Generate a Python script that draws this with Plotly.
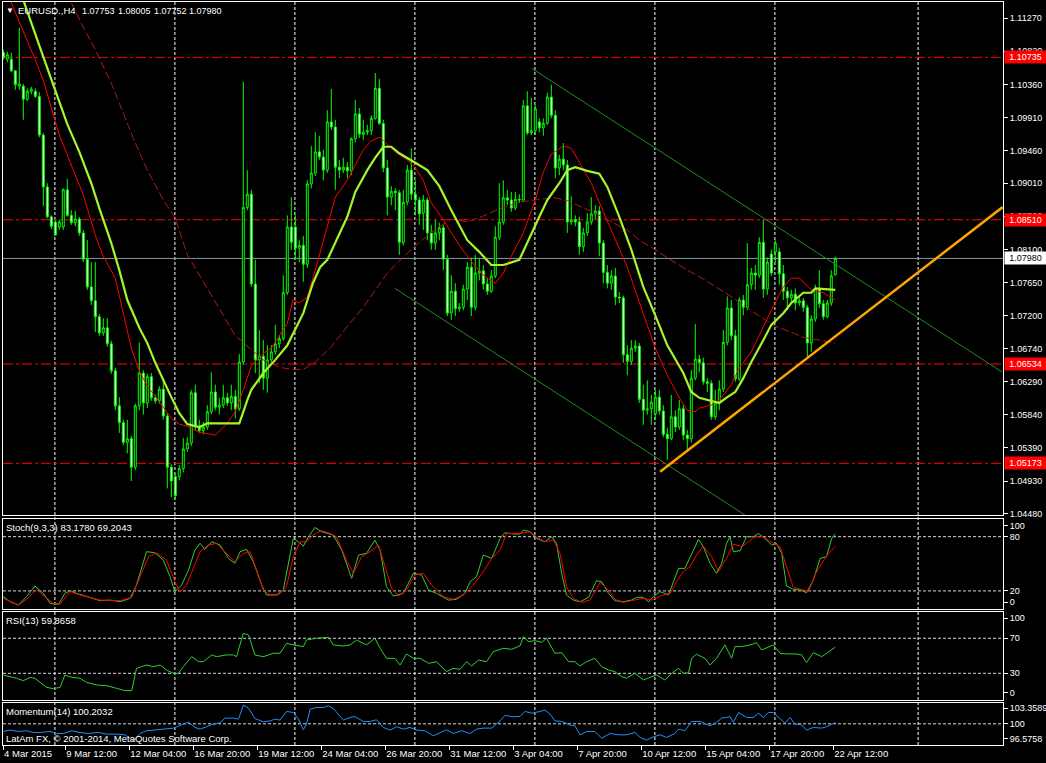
import plotly.graph_objects as go

# ---------------- DATA ----------------
opens = [
 1.1080,1.1071,1.1071,1.1055,1.1034,1.1034,1.1016,1.1027,1.1027,1.1020,
 1.0967,1.0896,1.0855,1.0848,1.0841,1.0841,1.0892,1.0857,1.0847,1.0852,
 1.0833,1.0797,1.0759,1.0740,1.0718,1.0696,1.0703,1.0681,1.0644,1.0596,
 1.0573,1.0546,1.0551,1.0512,1.0596,1.0641,1.0600,1.0636,1.0607,1.0603,
 1.0619,1.0582,1.0512,1.0499,1.0499,1.0510,1.0537,1.0545,1.0614,1.0567,
 1.0562,1.0567,1.0588,1.0615,1.0594,1.0597,1.0607,1.0600,1.0609,1.0592,
 1.0656,1.0868,1.0886,1.0763,1.0659,1.0664,1.0634,1.0659,1.0670,1.0681,
 1.0688,1.0751,1.0841,1.0841,1.0812,1.0816,1.0790,1.0900,1.0915,1.0944,
 1.0937,1.0919,1.0985,1.0978,1.0923,1.0919,1.0923,1.0918,1.0962,1.0996,
 1.0968,1.0971,1.0973,1.0990,1.1031,1.0983,1.0922,1.0882,1.0890,1.0888,
 1.0820,1.0875,1.0919,1.0886,1.0878,1.0860,1.0878,1.0833,1.0819,1.0833,
 1.0840,1.0797,1.0723,1.0753,1.0729,1.0731,1.0756,1.0786,1.0731,1.0778,
 1.0781,1.0763,1.0753,1.0774,1.0827,1.0848,1.0881,1.0878,1.0867,1.0879,
 1.0878,1.1007,1.0970,1.0973,1.0985,1.0977,1.0983,1.1019,1.0994,1.0922,
 1.0934,1.0926,1.0848,1.0851,1.0848,1.0814,1.0833,1.0848,1.0859,1.0863,
 1.0819,1.0779,1.0764,1.0774,1.0745,1.0744,1.0666,1.0657,1.0675,1.0678,
 1.0605,1.0590,1.0592,1.0585,1.0608,1.0589,1.0557,1.0551,1.0581,1.0567,
 1.0592,1.0556,1.0551,1.0634,1.0660,1.0655,1.0629,1.0627,1.0581,1.0600,
 1.0619,1.0683,1.0730,1.0692,1.0633,1.0741,1.0731,1.0762,1.0778,1.0775,
 1.0820,1.0756,1.0804,1.0807,1.0807,1.0777,1.0753,1.0744,1.0749,1.0737,
 1.0740,1.0731,1.0682,1.0715,1.0756,1.0736,1.0718,1.0737,1.07753]
highs = [
 1.1084,1.1081,1.1080,1.1056,1.1114,1.1037,1.1031,1.1033,1.1031,1.1026,
 1.0970,1.0901,1.0857,1.0851,1.0851,1.0894,1.0907,1.0864,1.0863,1.0855,
 1.0837,1.0823,1.0793,1.0793,1.0722,1.0716,1.0716,1.0685,1.0648,1.0608,
 1.0577,1.0577,1.0555,1.0599,1.0683,1.0645,1.0640,1.0641,1.0611,1.0623,
 1.0634,1.0586,1.0516,1.0503,1.0515,1.0552,1.0553,1.0618,1.0625,1.0577,
 1.0574,1.0597,1.0642,1.0625,1.0607,1.0625,1.0614,1.0625,1.0618,1.0667,
 1.1040,1.0919,1.0892,1.0796,1.0700,1.0686,1.0679,1.0679,1.0707,1.0693,
 1.0775,1.0857,1.0882,1.0857,1.0823,1.0829,1.0905,1.0952,1.0971,1.0966,
 1.0947,1.1001,1.1030,1.0988,1.0933,1.0936,1.0930,1.0964,1.1015,1.1004,
 1.0988,1.0981,1.0994,1.1052,1.1044,1.0988,1.0933,1.0897,1.0894,1.0892,
 1.0892,1.0926,1.0949,1.0905,1.0882,1.0885,1.0881,1.0844,1.0851,1.0847,
 1.0844,1.0803,1.0775,1.0764,1.0737,1.0762,1.0793,1.0799,1.0803,1.0799,
 1.0789,1.0771,1.0782,1.0842,1.0901,1.0905,1.0892,1.0889,1.0889,1.0886,
 1.1015,1.1027,1.1018,1.1008,1.0990,1.0990,1.1025,1.1036,1.1001,1.0940,
 1.0956,1.0933,1.0883,1.0857,1.0855,1.0840,1.0860,1.0882,1.0871,1.0870,
 1.0823,1.0789,1.0782,1.0785,1.0752,1.0747,1.0679,1.0686,1.0686,1.0682,
 1.0625,1.0631,1.0611,1.0618,1.0618,1.0597,1.0566,1.0611,1.0590,1.0604,
 1.0597,1.0563,1.0645,1.0708,1.0666,1.0662,1.0634,1.0631,1.0618,1.0631,
 1.0700,1.0746,1.0741,1.0700,1.0745,1.0748,1.0819,1.0785,1.0789,1.0827,
 1.0851,1.0799,1.0810,1.0823,1.0812,1.0789,1.0759,1.0755,1.0757,1.0747,
 1.0744,1.0734,1.0720,1.0762,1.0782,1.0741,1.0741,1.0782,1.08005]
lows = [
 1.1070,1.1067,1.1053,1.1029,1.1029,1.0988,1.1014,1.1023,1.1018,1.0964,
 1.0870,1.0853,1.0838,1.0829,1.0837,1.0837,1.0855,1.0844,1.0842,1.0829,
 1.0793,1.0755,1.0734,1.0697,1.0692,1.0692,1.0677,1.0640,1.0590,1.0559,
 1.0542,1.0531,1.0493,1.0508,1.0590,1.0584,1.0593,1.0603,1.0599,1.0599,
 1.0577,1.0483,1.0471,1.0467,1.0494,1.0505,1.0533,1.0541,1.0563,1.0559,
 1.0557,1.0563,1.0585,1.0590,1.0584,1.0593,1.0596,1.0590,1.0579,1.0589,
 1.0652,1.0864,1.0759,1.0641,1.0627,1.0618,1.0614,1.0655,1.0666,1.0675,
 1.0685,1.0748,1.0810,1.0796,1.0793,1.0766,1.0785,1.0894,1.0911,1.0933,
 1.0905,1.0915,1.0974,1.0892,1.0908,1.0915,1.0908,1.0912,1.0957,1.0963,
 1.0960,1.0967,1.0967,1.0988,1.0981,1.0916,1.0857,1.0871,1.0864,1.0803,
 1.0816,1.0871,1.0878,1.0857,1.0844,1.0837,1.0823,1.0810,1.0810,1.0823,
 1.0782,1.0719,1.0714,1.0719,1.0725,1.0727,1.0741,1.0719,1.0727,1.0768,
 1.0755,1.0748,1.0751,1.0771,1.0823,1.0844,1.0871,1.0862,1.0864,1.0874,
 1.0877,1.0967,1.0967,1.0967,1.0971,1.0966,1.0981,1.0990,1.0908,1.0912,
 1.0919,1.0833,1.0844,1.0842,1.0803,1.0807,1.0829,1.0844,1.0852,1.0801,
 1.0764,1.0757,1.0755,1.0734,1.0737,1.0655,1.0638,1.0652,1.0670,1.0600,
 1.0570,1.0584,1.0570,1.0577,1.0584,1.0553,1.0522,1.0549,1.0560,1.0563,
 1.0549,1.0536,1.0546,1.0631,1.0642,1.0625,1.0615,1.0577,1.0577,1.0590,
 1.0615,1.0679,1.0686,1.0629,1.0630,1.0720,1.0727,1.0755,1.0755,1.0771,
 1.0744,1.0748,1.0774,1.0793,1.0762,1.0741,1.0727,1.0738,1.0727,1.0733,
 1.0725,1.0663,1.0670,1.0711,1.0730,1.0714,1.0716,1.0733,1.07752]
closes = [
 1.1073,1.1077,1.1055,1.1036,1.1037,1.1016,1.1027,1.1030,1.1020,1.0967,
 1.0896,1.0855,1.0842,1.0830,1.0848,1.0892,1.0857,1.0847,1.0852,1.0833,
 1.0797,1.0759,1.0740,1.0718,1.0696,1.0703,1.0681,1.0644,1.0596,1.0573,
 1.0546,1.0551,1.0512,1.0596,1.0641,1.0600,1.0636,1.0607,1.0603,1.0619,
 1.0582,1.0512,1.0493,1.0473,1.0510,1.0537,1.0545,1.0614,1.0567,1.0562,
 1.0567,1.0588,1.0615,1.0594,1.0597,1.0607,1.0600,1.0609,1.0592,1.0656,
 1.0868,1.0886,1.0763,1.0659,1.0664,1.0634,1.0659,1.0670,1.0681,1.0688,
 1.0751,1.0841,1.0820,1.0812,1.0816,1.0790,1.0900,1.0915,1.0944,1.0937,
 1.0919,1.0985,1.0978,1.0923,1.0919,1.0923,1.0918,1.0962,1.0996,1.0968,
 1.0971,1.0973,1.0990,1.1031,1.0983,1.0922,1.0882,1.0890,1.0888,1.0820,
 1.0875,1.0919,1.0886,1.0878,1.0859,1.0878,1.0833,1.0819,1.0833,1.0840,
 1.0797,1.0723,1.0753,1.0729,1.0731,1.0756,1.0786,1.0731,1.0778,1.0781,
 1.0763,1.0753,1.0774,1.0827,1.0848,1.0881,1.0878,1.0867,1.0879,1.0878,
 1.1007,1.0970,1.0973,1.1003,1.0977,1.0983,1.1019,1.0994,1.0922,1.0934,
 1.0926,1.0848,1.0851,1.0848,1.0814,1.0833,1.0848,1.0859,1.0863,1.0819,
 1.0779,1.0764,1.0774,1.0745,1.0744,1.0666,1.0657,1.0675,1.0678,1.0605,
 1.0590,1.0592,1.0601,1.0608,1.0589,1.0557,1.0551,1.0581,1.0567,1.0592,
 1.0556,1.0551,1.0634,1.0660,1.0655,1.0629,1.0627,1.0581,1.0600,1.0619,
 1.0683,1.0730,1.0692,1.0633,1.0741,1.0731,1.0762,1.0778,1.0775,1.0820,
 1.0756,1.0793,1.0778,1.0819,1.0777,1.0753,1.0744,1.0749,1.0737,1.0740,
 1.0731,1.0682,1.0715,1.0756,1.0736,1.0718,1.0737,1.0774,1.07980]
bars = list(range(len(closes)))

# moving averages (bar index, price)
ma_slow = [(0,1.1238),(5,1.1152),(10,1.1074),(13,1.1029),(16,1.0982),(19,1.0944),(22,1.0901),(24,1.0867),
 (27,1.0819),(29,1.0782),(31,1.0741),(34,1.0703),(36,1.0682),(38,1.0655),(40,1.0631),(42,1.0608),(44,1.0586),
 (46,1.0571),(49,1.0567),(51,1.0572),(54,1.0572),(59,1.0572),(61,1.0604),(62,1.0618),(65,1.0641),(68,1.0659),
 (71,1.0679),(75,1.0723),(77.4,1.0764),(79.2,1.0786),(81,1.0796),(83,1.0819),(86,1.0855),(88,1.0889),(91,1.0919),
 (93,1.0936),(95,1.0951),(97,1.0951),(99,1.0942),(103,1.0929),(106,1.0919),(109,1.0897),(112,1.0864),
 (116,1.0823),(119,1.0807),(122,1.0789),(125,1.0789),(129,1.0796),(132,1.0830),(134,1.0855),(136,1.0878),
 (139,1.0901),(141,1.0919),(143,1.0923),(146,1.0918),(149,1.0914),(151,1.0896),(154,1.0855),(157,1.0810),
 (160,1.0759),(163,1.0720),(166,1.0679),(170,1.0641),(172,1.0615),(174,1.0607),(177,1.0603),(179,1.0600),
 (181,1.0608),(183,1.0615),(185,1.0634),(187,1.0656),(190,1.0686),(192,1.0707),(195,1.0723),(197,1.0737),
 (200,1.0751),(202,1.0751),(203,1.0757),(206,1.0756),(208,1.0755)]
ma_fast = [(0,1.1174),(2,1.1148),(5,1.1111),(8,1.1070),(10,1.1042),(12,1.1005),(14,1.0967),(17,1.0926),
 (20,1.0885),(23,1.0830),(25,1.0801),(28,1.0771),(30,1.0723),(32,1.0675),(34,1.0644),(36,1.0623),(38,1.0609),
 (40,1.0594),(42,1.0579),(44,1.0571),(46,1.0568),(49,1.0560),(52,1.0557),(53,1.0556),(56,1.0572),(58,1.0588),
 (60,1.0618),(62,1.0651),(65,1.0668),(67,1.0675),(71,1.0709),(72.4,1.0741),(74,1.0737),(76,1.0745),(78,1.0782),
 (81,1.0841),(83,1.0882),(86,1.0905),(88,1.0926),(90,1.0947),(92,1.0959),(94,1.0964),(95,1.0960),(98,1.0944),
 (101,1.0933),(103,1.0922),(105,1.0905),(107,1.0874),(110,1.0851),(114,1.0816),(117,1.0794),(120,1.0775),
 (123,1.0764),(125,1.0778),(127,1.0801),(130,1.0833),(133,1.0878),(135,1.0916),(137,1.0941),(140,1.0952),
 (142,1.0949),(144,1.0930),(147,1.0901),(150,1.0862),(153,1.0823),(156,1.0786),(159,1.0738),(163,1.0675),
 (166,1.0638),(169,1.0607),(171,1.0590),(173,1.0588),(174,1.0593),(177,1.0597),(179,1.0604),(182,1.0625),
 (184,1.0648),(187,1.0670),(190,1.0704),(192,1.0727),(195,1.0759),(197,1.0771),(199,1.0771),(202,1.0755),
 (205,1.0751),(208,1.0741)]
ma_long = [(0,1.1320),(17,1.1148),(20,1.1115),(23,1.1084),(27,1.1038),(30,1.0997),(33,1.0956),(36,1.0919),
 (40,1.0878),(43,1.0853),(46,1.0803),(50,1.0766),(52,1.0748),(55,1.0720),(58,1.0692),(62,1.0673),(65,1.0659),
 (69,1.0649),(72,1.0646),(75,1.0646),(78,1.0656),(82,1.0677),(86,1.0705),(90,1.0731),(93,1.0755),(96,1.0778),
 (100,1.0800),(104,1.0820),(108,1.0838),(112,1.0852),(116,1.0848),(120,1.0856),(124,1.0866),(129,1.0875),
 (134,1.0879),(138,1.0881),(141,1.0877),(144,1.0870),(148,1.0860),(151,1.0851),(156,1.0837),(159,1.0823),
 (163,1.0810),(166,1.0799),(171,1.0782),(175,1.0770),(179,1.0756),(183,1.0742),(186,1.0730),(190,1.0716),
 (193,1.0705),(197,1.0697),(200,1.0690),(204,1.0686),(208,1.0682)]

# drawn objects (bar index, price)
channel_upper = [(132.1, 1.10584), (249.7, 1.06424)]
channel_lower = [(97.9, 1.07570), (185.4, 1.04465)]
trend_orange = [(164.2, 1.05058), (249.85, 1.08684)]
level_prices = [1.10735, 1.08510, 1.06534, 1.05173]
last_price = 1.07980
header_symbol = "EURUSD.,H4"
header_ohlc = [1.07753, 1.08005, 1.07752, 1.07980]

# oscillators (bar index, value)
stoch_main = [(0,13.6),(1.7,8.1),(3.8,4.4),(5.8,13.6),(7.9,25.4),(10.0,17.3),(11.7,6.3),(13.8,5.2),(15.4,17.3),
 (16.7,20.3),(18.3,17.3),(21.7,12.9),(24.2,9.2),(26.7,9.9),(29.2,8.1),(31.7,11.8),(33.3,26.5),(35.8,63.4),
 (37.9,62.2),(40.0,54.1),(41.7,35.7),(42.9,19.2),(44.6,26.5),(46.3,43.1),(47.9,65.2),(49.2,72.6),(50.4,65.9),
 (52.1,74.4),(54.2,70.7),(56.3,56.0),(57.9,50.5),(59.2,63.4),(60.8,65.9),(62.5,52.3),(64.6,26.5),(65.8,15.5),
 (68.3,15.5),(70.0,21.0),(71.3,50.5),(72.5,78.1),(73.8,74.4),(75.0,69.6),(75.8,76.2),(77.9,90.2),(79.6,85.5),
 (82.5,81.8),(84.6,65.2),(87.1,33.9),(88.8,59.7),(90.8,61.5),(92.9,76.2),(94.2,65.2),(95.8,24.7),(97.5,14.4),
 (100.0,17.3),(102.5,39.4),(104.6,37.6),(106.3,21.0),(108.3,17.3),(111.3,9.9),(113.3,10.7),(115.4,17.3),
 (116.7,30.2),(118.3,35.7),(120.0,59.7),(122.1,56.0),(124.2,78.1),(125.4,84.3),(127.9,82.9),(129.2,83.0),
 (130.0,87.3),(131.7,85.5),(133.3,78.1),(135.4,74.4),(137.1,79.9),(138.3,72.6),(139.6,39.4),(140.8,15.5),
 (142.5,9.9),(144.2,8.1),(146.3,12.9),(148.3,31.3),(149.6,30.2),(151.3,17.3),(152.9,9.2),(155.0,8.1),
 (157.1,9.9),(158.3,12.9),(160.0,12.9),(161.3,8.1),(162.5,13.6),(164.2,19.2),(166.3,15.5),(167.5,30.2),
 (168.8,44.9),(170.4,44.9),(172.1,61.5),(173.8,77.0),(175.0,68.9),(176.7,50.5),(178.3,39.4),(179.6,50.5),
 (180.8,72.6),(181.7,79.9),(182.5,63.4),(184.2,64.5),(185.8,79.9),(187.5,79.9),(188.8,83.6),(190.4,78.1),
 (192.1,70.7),(193.3,72.6),(194.6,61.5),(195.8,25.4),(197.5,21.7),(199.2,21.0),(200.8,18.0),(202.5,32.0),
 (204.2,56.0),(205.8,57.8),(207.1,78.1),(208,83.178)]
stoch_signal = [(0,11.8),(3.8,4.4),(5.8,10.7),(8.3,21.7),(10.4,13.6),(12.5,6.3),(14.2,5.5),(16.7,19.2),
 (19.2,15.5),(24.2,9.9),(29.2,9.2),(32.1,12.9),(34.2,35.7),(36.3,57.8),(38.3,62.2),(40.8,54.1),(42.9,30.2),
 (44.2,19.2),(45.8,26.5),(47.5,44.9),(49.2,63.4),(51.3,70.7),(53.3,72.6),(55.8,61.5),(57.9,52.3),(60.0,61.5),
 (61.7,63.4),(63.3,43.1),(65.0,21.0),(66.7,15.5),(68.8,15.5),(70.8,24.7),(72.5,57.8),(74.2,74.4),(75.8,74.4),
 (77.9,83.6),(79.6,86.6),(81.7,83.6),(83.3,79.9),(85.8,54.1),(87.5,39.4),(89.6,57.8),(91.7,63.4),(93.8,70.7),
 (95.4,48.6),(97.1,22.8),(98.8,14.4),(100.8,21.0),(102.9,37.6),(105.0,39.4),(107.1,26.5),(110.0,13.6),
 (112.5,10.7),(115.0,15.5),(117.5,26.5),(120.0,41.3),(122.1,56.0),(124.2,65.2),(125.8,83.6),(129.2,83.5),
 (131.7,85.5),(133.3,79.9),(135.4,74.4),(137.5,76.2),(139.2,61.5),(140.8,24.7),(142.5,11.8),(144.6,7.4),
 (146.7,9.9),(149.2,29.5),(151.3,21.0),(152.9,10.7),(155.0,7.4),(157.5,9.9),(160.0,11.8),(162.1,9.9),
 (164.2,14.4),(166.7,17.3),(168.3,30.2),(170.0,41.3),(171.7,46.8),(173.3,59.7),(175.0,69.6),(177.1,57.8),
 (178.8,41.3),(180.8,56.0),(182.5,71.8),(184.6,68.9),(186.3,74.4),(187.9,79.9),(190.0,79.9),(192.5,72.6),
 (194.2,68.9),(195.8,46.8),(197.5,23.9),(199.6,21.7),(201.3,19.2),(202.9,37.6),(204.6,50.5),(206.3,61.5),
 (208,69.2043)]
rsi = [(0,28.1),(1.7,26.2),(3.3,24.3),(5.0,21.6),(6.7,25.4),(7.9,24.3),(9.6,17.8),(10.8,14.0),(12.5,12.5),
 (14.2,14.0),(15.4,28.1),(17.1,25.4),(19.2,24.3),(20.8,19.7),(23.3,16.7),(25.8,15.9),(28.3,12.9),(30.4,10.2),
 (32.1,10.2),(33.3,35.7),(34.6,37.6),(35.8,39.5),(37.5,37.6),(39.2,39.5),(40.8,33.8),(42.5,30.0),(43.8,30.0),
 (45.0,37.6),(47.1,49.0),(48.8,43.3),(50.0,43.3),(52.1,51.0),(53.3,49.0),(55.8,51.0),(57.5,51.0),(58.3,49.0),
 (60.0,75.7),(61.3,73.8),(62.9,51.0),(65.0,49.0),(67.5,52.9),(69.2,52.9),(70.8,64.3),(72.5,62.4),(75.0,60.5),
 (75.8,68.1),(78.3,70.0),(81.3,71.1),(82.5,62.4),(85.0,61.2),(86.7,62.4),(88.3,68.1),(90.8,62.4),(92.9,70.0),
 (94.2,58.6),(95.8,47.1),(97.9,47.1),(99.2,39.5),(100.8,52.1),(102.5,47.1),(104.2,47.1),(106.3,41.4),
 (108.3,43.3),(110.8,31.9),(112.5,35.7),(114.2,34.6),(115.8,43.3),(117.1,38.4),(118.8,45.2),(120.8,43.3),
 (122.5,54.8),(125.0,58.6),(127.1,57.4),(129.2,61.5),(130.0,71.9),(131.3,66.2),(132.9,67.3),(134.6,65.4),
 (135.8,70.0),(137.9,52.9),(139.6,53.6),(141.3,43.3),(142.9,43.3),(144.2,38.4),(145.8,43.3),(147.9,47.1),
 (149.6,37.6),(151.3,33.8),(152.9,31.9),(154.6,26.2),(155.8,24.3),(157.9,30.0),(160.0,22.4),(161.7,25.4),
 (163.3,28.1),(165.4,22.4),(167.1,30.0),(168.8,35.7),(170.0,30.0),(171.3,30.8),(172.1,47.1),(173.3,51.7),
 (175.4,47.1),(176.7,39.5),(178.3,47.1),(180.4,62.4),(182.1,47.1),(182.9,60.5),(184.6,60.5),(186.7,62.4),
 (188.3,65.0),(189.6,56.7),(192.5,62.4),(194.2,52.9),(195.8,52.1),(198.3,52.1),(199.6,51.0),(200.8,42.2),
 (202.5,53.6),(204.6,49.0),(208,59.8658)]
momentum = [(0,98.76),(1.7,98.98),(3.8,98.76),(5.8,98.87),(7.5,98.60),(9.2,98.60),(11.7,98.76),(13.3,98.44),
 (15.0,98.44),(17.1,98.87),(19.2,98.60),(21.3,98.44),(23.8,98.60),(25.8,98.33),(28.3,98.33),(30.4,98.22),
 (32.5,97.25),(34.2,98.44),(35.8,98.87),(37.5,98.98),(40.0,99.08),(42.5,99.30),(44.6,99.84),(46.3,100.27),
 (47.9,99.41),(49.2,99.14),(50.8,99.52),(52.5,99.95),(54.2,100.16),(55.4,100.92),(57.5,100.92),(58.8,100.75),
 (60.0,103.02),(61.3,102.53),(62.9,100.86),(65.0,100.32),(66.7,100.48),(67.9,100.75),(69.2,100.59),
 (70.8,101.99),(72.5,101.83),(73.8,100.75),(75.0,99.03),(75.8,99.95),(76.7,102.37),(78.3,102.64),
 (80.0,102.64),(81.3,102.91),(82.5,102.48),(85.0,100.59),(86.7,101.02),(87.9,101.18),(90.0,100.38),
 (91.7,100.38),(93.3,100.65),(95.0,99.41),(96.7,98.98),(98.3,99.52),(100.0,99.14),(101.7,99.41),(103.3,98.98),
 (105.4,98.87),(107.5,98.06),(109.2,98.60),(110.8,99.03),(112.5,98.44),(114.6,98.87),(116.7,98.44),
 (118.3,99.14),(120.0,99.30),(122.1,99.30),(124.2,100.48),(125.4,101.35),(127.5,101.13),(129.2,101.2),
 (130.4,101.99),(132.1,101.72),(133.8,101.94),(135.4,102.21),(136.7,101.56),(137.9,100.48),(139.6,100.38),
 (141.7,99.78),(142.9,99.68),(144.2,98.22),(145.8,98.76),(147.9,98.76),(149.6,97.68),(151.7,98.44),
 (153.8,98.22),(155.8,98.22),(157.9,98.60),(159.2,97.79),(160.8,97.36),(162.5,97.90),(164.2,98.22),
 (165.8,97.79),(167.9,98.44),(168.8,99.14),(170.4,98.87),(172.1,100.38),(174.2,100.38),(176.7,99.68),
 (178.3,100.22),(179.6,100.92),(181.7,101.13),(182.5,100.22),(183.8,101.83),(185.8,101.02),(187.5,101.02),
 (188.8,101.72),(190.0,101.02),(191.3,101.83),(192.5,101.83),(194.2,100.75),(195.4,100.11),(196.7,101.02),
 (197.9,99.95),(199.6,99.84),(200.8,98.98),(202.5,99.41),(204.6,99.30),(205.8,99.52),(208,100.2032)]

# axis labels
price_ticks = [1.11270,1.10820,1.10360,1.09910,1.09460,1.09010,1.08560,1.08100,
               1.07650,1.07200,1.06740,1.06290,1.05840,1.05390,1.04930,1.04480]
time_tick_bars = [0,16,32,48,64,80,96,112,128,144,160,176,192,208]
time_tick_labels = ["4 Mar 2015","9 Mar 12:00","12 Mar 04:00","16 Mar 20:00","19 Mar 12:00",
                    "24 Mar 04:00","26 Mar 20:00","31 Mar 12:00","3 Apr 04:00","7 Apr 20:00",
                    "10 Apr 12:00","15 Apr 04:00","17 Apr 20:00","22 Apr 12:00"]
grid_bars = [12.9, 42.9, 72.9, 102.9, 132.9, 162.9, 192.9, 228.7]

# ---------------- LAYOUT HELPERS ----------------
W, H = 1046, 763
ML, MR, MT, MB = 3, 43, 2, 18
PW, PH = W - ML - MR, H - MT - MB
def ypap(py): return (H - MB - py) / PH
def xpap(px): return (px - ML) / PW

X_RANGE = [-0.075, 249.925]
MAIN_RANGE = [1.04465, 1.11493]
FONT = "Liberation Sans"
WHITE = "white"
AX_FONT = dict(family=FONT, size=9, color=WHITE)

def xs(pts): return [p[0] for p in pts]
def ys(pts): return [p[1] for p in pts]

fig = go.Figure()
fig.add_trace(go.Candlestick(
    x=bars, open=opens, high=highs, low=lows, close=closes,
    increasing=dict(line=dict(color="#00FF00", width=1), fillcolor="black"),
    decreasing=dict(line=dict(color="#00FF00", width=1), fillcolor="white"),
    whiskerwidth=0, hoverinfo="skip", xaxis="x", yaxis="y"))
fig.add_trace(go.Scatter(x=xs(ma_long), y=ys(ma_long), mode="lines",
    line=dict(color="#B01A1A", width=1, dash="8px,3px"), xaxis="x", yaxis="y", hoverinfo="skip"))
fig.add_trace(go.Scatter(x=xs(ma_fast), y=ys(ma_fast), mode="lines",
    line=dict(color="#FF0000", width=1), xaxis="x", yaxis="y", hoverinfo="skip"))
fig.add_trace(go.Scatter(x=xs(ma_slow), y=ys(ma_slow), mode="lines",
    line=dict(color="#A6F52A", width=2.2), xaxis="x", yaxis="y", hoverinfo="skip"))
for ln in (channel_upper, channel_lower):
    fig.add_trace(go.Scatter(x=xs(ln), y=ys(ln), mode="lines",
        line=dict(color="#228B22", width=1), xaxis="x", yaxis="y", hoverinfo="skip"))
fig.add_trace(go.Scatter(x=xs(trend_orange), y=ys(trend_orange), mode="lines",
    line=dict(color="#FFA500", width=2.5), xaxis="x", yaxis="y", hoverinfo="skip"))

fig.add_trace(go.Scatter(x=xs(stoch_main), y=ys(stoch_main), mode="lines",
    line=dict(color="#32CD32", width=1), xaxis="x2", yaxis="y2", hoverinfo="skip"))
fig.add_trace(go.Scatter(x=xs(stoch_signal), y=ys(stoch_signal), mode="lines",
    line=dict(color="#FF0000", width=1), xaxis="x2", yaxis="y2", hoverinfo="skip"))
fig.add_trace(go.Scatter(x=xs(rsi), y=ys(rsi), mode="lines",
    line=dict(color="#32CD32", width=1), xaxis="x3", yaxis="y3", hoverinfo="skip"))
fig.add_trace(go.Scatter(x=xs(momentum), y=ys(momentum), mode="lines",
    line=dict(color="#1E90FF", width=1), xaxis="x4", yaxis="y4", hoverinfo="skip"))

base_x = dict(range=X_RANGE, showgrid=False, zeroline=False, showline=True, linecolor=WHITE,
              linewidth=1, mirror=True, showticklabels=False, ticks="", fixedrange=True,
              automargin=False, rangeslider=dict(visible=False))
base_y = dict(side="right", showgrid=False, zeroline=False, showline=True, linecolor=WHITE,
              linewidth=1, mirror=True, ticks="outside", ticklen=4, tickcolor=WHITE,
              tickfont=AX_FONT, fixedrange=True, automargin=False)

tick_x = [max(b - 0.5, X_RANGE[0] + 0.02) for b in time_tick_bars]

layout = dict(
    width=W, height=H, paper_bgcolor="black", plot_bgcolor="black",
    margin=dict(l=ML, r=MR, t=MT, b=MB, autoexpand=False), showlegend=False, hovermode=False,
    font=dict(family=FONT, size=9.5, color=WHITE),
    xaxis=dict(base_x, anchor="y"),
    xaxis2=dict(base_x, anchor="y2", matches="x"),
    xaxis3=dict(base_x, anchor="y3", matches="x"),
    xaxis4=dict(base_x, anchor="y4", matches="x", showticklabels=True, ticks="outside",
                ticklen=4, tickcolor=WHITE, tickvals=tick_x, ticktext=time_tick_labels,
                ticklabelposition="outside right", tickangle=0,
                tickfont=dict(family=FONT, size=9.5, color=WHITE)),
    yaxis=dict(base_y, anchor="x", domain=[ypap(515), 1], range=MAIN_RANGE,
               tickvals=price_ticks, ticktext=[f"{v:.5f}" for v in price_ticks]),
    yaxis2=dict(base_y, anchor="x2", domain=[ypap(609), ypap(518.6)], range=[0, 100],
                tickvals=[92.3, 80, 20, 7.4], ticktext=["100", "80", "20", "0"]),
    yaxis3=dict(base_y, anchor="x3", domain=[ypap(699.6), ypap(612)], range=[0, 100],
                tickvals=[93.1, 70, 30, 7.9], ticktext=["100", "70", "30", "0"]),
    yaxis4=dict(base_y, anchor="x4", domain=[0, ypap(703)], range=[96.5758, 103.3589],
                tickvals=[102.5, 100, 97.6], ticktext=["103.3589", "100", "96.5758"]),
)
fig.update_layout(**layout)

shapes = []
for gb in grid_bars:
    shapes.append(dict(type="line", xref="x", yref="paper", x0=gb, x1=gb, y0=0, y1=1,
                       line=dict(color=WHITE, width=1, dash="3px,2px"), layer="below"))
for lv in level_prices:
    shapes.append(dict(type="line", xref="paper", yref="y", x0=0, x1=1, y0=lv, y1=lv,
                       line=dict(color="#FF0000", width=1, dash="10px,3px,3px,3px"), layer="below"))
shapes.append(dict(type="line", xref="paper", yref="y", x0=0, x1=1, y0=last_price, y1=last_price,
                   line=dict(color="#8796A8", width=1), layer="below"))
for yr, lv in (("y2", 80), ("y2", 20), ("y3", 70), ("y3", 30), ("y4", 100)):
    shapes.append(dict(type="line", xref="paper", yref=yr, x0=0, x1=1, y0=lv, y1=lv,
                       line=dict(color="#D8D8D8", width=1, dash="3px,2px"), layer="below"))
fig.update_layout(shapes=shapes)

ann = []
def txt(px, py, s, size=9.5, color=WHITE):
    ann.append(dict(xref="paper", yref="paper", x=xpap(px), y=ypap(py), text=s, showarrow=False,
                    xanchor="left", yanchor="middle", borderpad=0,
                    font=dict(family=FONT, size=size, color=color)))
txt(5, 10.5, "▼", size=8)
txt(17, 10.5, header_symbol, size=9.5)
for k, v in enumerate(header_ohlc):
    txt(81 + 35.8 * k, 10.5, f"{v:.5f}", size=9)
txt(5, 527, "Stoch(9,3,3) 83.1780 69.2043")
txt(5, 620, "RSI(13) 59.8658")
txt(5, 711, "Momentum(14) 100.2032")
txt(5, 738, "LatAm FX, © 2001-2014, MetaQuotes Software Corp.")
for lv in level_prices:
    ann.append(dict(xref="paper", yref="y", x=xpap(1004), y=lv, text=f"{lv:.5f}", showarrow=False,
                    xanchor="left", yanchor="middle", bgcolor="#FF0000", width=41, height=12,
                    borderpad=0, align="center", font=AX_FONT))
ann.append(dict(xref="paper", yref="y", x=xpap(1004), y=last_price, text=f"{last_price:.5f}",
                showarrow=False, xanchor="left", yanchor="middle", bgcolor="white", width=41,
                height=12, borderpad=0, align="center",
                font=dict(family=FONT, size=9, color="black")))
fig.update_layout(annotations=ann)

fig.write_html("out.html", config={"displayModeBar": False},
               post_script="document.body.style.margin='0px';document.body.style.padding='0px';"
                           "document.body.style.overflow='hidden';")
